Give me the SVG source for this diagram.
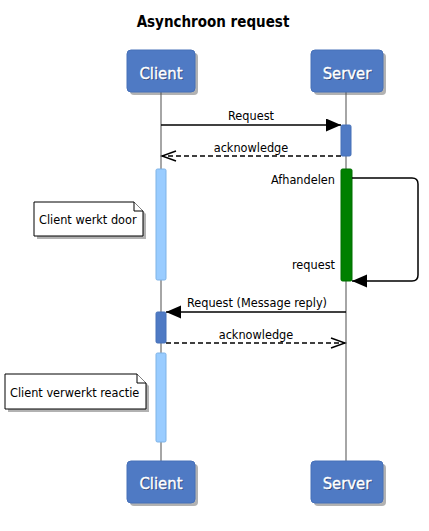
<svg xmlns="http://www.w3.org/2000/svg" width="429" height="531" viewBox="0 0 429 531">
<style>
text{font-family:"DejaVu Sans Condensed","DejaVu Sans",sans-serif;font-stretch:condensed;fill:#000}
.lbl{font-size:12.6px}
.title{font-size:15px;font-weight:bold}
.pname{font-size:16.5px;fill:#fff;stroke:#fff;stroke-width:0.35}
.pshadow{font-size:16.5px;fill:#1a2a50;opacity:0.7}
.box{fill:#4F7AC4;stroke:#4670b8;stroke-width:1}
.shadow{fill:#555;opacity:0.45}
.life{stroke:#888;stroke-width:1.5}
.msg{stroke:#000;stroke-width:1.5;fill:none}
.dash{stroke-dasharray:5,3}
.note{fill:#fff;stroke:#000;stroke-width:1}
</style>
<defs>
<marker id="filled" markerUnits="userSpaceOnUse" markerWidth="16" markerHeight="14" refX="15" refY="6.5" orient="auto">
<path d="M0,0 L15,6.5 L0,13 z" fill="#000"/>
</marker>
<marker id="open" markerUnits="userSpaceOnUse" markerWidth="17" markerHeight="13" refX="15" refY="6" orient="auto">
<path d="M1,1 L15,6 L1,11" fill="none" stroke="#000" stroke-width="1.5"/>
</marker>
</defs>
<rect width="429" height="531" fill="#fff"/>
<text class="title" x="213" y="27" text-anchor="middle">Asynchroon request</text>
<g id="lifelines">
<line class="life" x1="161" y1="92" x2="161" y2="461"/>
<line class="life" x1="346" y1="92" x2="346" y2="461"/>
</g>
<g id="client-top">
<rect class="shadow" x="130" y="53" width="68" height="42" rx="4"/>
<rect class="box" x="127" y="50" width="68" height="42" rx="4"/>
<text class="pshadow" x="162" y="79.5" text-anchor="middle">Client</text>
<text class="pname" x="161" y="78.5" text-anchor="middle">Client</text>
</g>
<g id="server-top">
<rect class="shadow" x="314" y="53" width="72" height="42" rx="4"/>
<rect class="box" x="311" y="50" width="72" height="42" rx="4"/>
<text class="pshadow" x="348" y="79.5" text-anchor="middle">Server</text>
<text class="pname" x="347" y="78.5" text-anchor="middle">Server</text>
</g>
<g id="client-bottom">
<rect class="shadow" x="130" y="464" width="68" height="42" rx="4"/>
<rect class="box" x="127" y="461" width="68" height="42" rx="4"/>
<text class="pshadow" x="162" y="489.5" text-anchor="middle">Client</text>
<text class="pname" x="161" y="488.5" text-anchor="middle">Client</text>
</g>
<g id="server-bottom">
<rect class="shadow" x="314" y="464" width="72" height="42" rx="4"/>
<rect class="box" x="311" y="461" width="72" height="42" rx="4"/>
<text class="pshadow" x="348" y="489.5" text-anchor="middle">Server</text>
<text class="pname" x="347" y="488.5" text-anchor="middle">Server</text>
</g>
<g id="activations">
<rect x="341" y="125" width="10" height="31" rx="1.5" fill="#4F7AC4" stroke="#4670b8"/>
<rect x="156" y="169" width="10" height="111" rx="1.5" fill="#99CCFF" stroke="#7fb3e6"/>
<rect x="341" y="169" width="11" height="112" rx="1.5" fill="#008000" stroke="#006f00"/>
<rect x="156" y="312" width="10" height="31" rx="1.5" fill="#4F7AC4" stroke="#4670b8"/>
<rect x="156" y="353" width="10" height="89" rx="1.5" fill="#99CCFF" stroke="#7fb3e6"/>
</g>
<g id="connectors">
<line class="msg" x1="161" y1="125" x2="341" y2="125" marker-end="url(#filled)"/>
<line class="msg dash" x1="341" y1="156" x2="162" y2="156" marker-end="url(#open)"/>
<path class="msg" d="M352,178 H412 Q418,178 418,184 V275 Q418,281 412,281 H352" marker-end="url(#filled)"/>
<line class="msg" x1="346" y1="312" x2="166" y2="312" marker-end="url(#filled)"/>
<line class="msg dash" x1="166" y1="343" x2="345" y2="343" marker-end="url(#open)"/>
</g>
<g id="labels">
<text class="lbl" x="251" y="120" text-anchor="middle">Request</text>
<text class="lbl" x="251" y="152" text-anchor="middle">acknowledge</text>
<text class="lbl" x="335" y="184" text-anchor="end">Afhandelen</text>
<text class="lbl" x="335" y="269" text-anchor="end">request</text>
<text class="lbl" x="257" y="307" text-anchor="middle">Request (Message reply)</text>
<text class="lbl" x="256" y="339" text-anchor="middle">acknowledge</text>
</g>
<g id="note-werkt-door">
<path class="shadow" d="M37,205 H137 L146,214 V239 H37 Z"/>
<path class="note" d="M34,202 H134 L143,211 V236 H34 Z"/>
<path class="note" d="M134,202 V211 H143" fill="none"/>
<text class="lbl" x="39" y="224">Client werkt door</text>
</g>
<g id="note-verwerkt-reactie">
<path class="shadow" d="M8,377 H140 L149,386 V412 H8 Z"/>
<path class="note" d="M5,374 H137 L146,383 V409 H5 Z"/>
<path class="note" d="M137,374 V383 H146" fill="none"/>
<text class="lbl" x="10" y="397">Client verwerkt reactie</text>
</g>
</svg>
